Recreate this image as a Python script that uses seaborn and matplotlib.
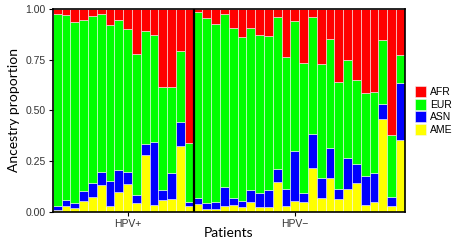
import numpy as np
import pandas as pd
import seaborn as sns
import matplotlib.pyplot as plt

# ancestry proportions per patient (16 HPV+ then 24 HPV-)
ancestry = ['AFR', 'EUR', 'ASN', 'AME']
colors = ['#FF0000', '#00FF00', '#0000FF', '#FFFF00']

afr = [0.025, 0.028, 0.061, 0.051, 0.035, 0.025, 0.076, 0.051,
       0.097, 0.221, 0.107, 0.127, 0.384, 0.384, 0.206, 0.659,
       0.015, 0.045, 0.074, 0.021, 0.094, 0.135, 0.094, 0.127,
       0.132, 0.037, 0.238, 0.057, 0.265, 0.040, 0.271, 0.148,
       0.359, 0.250, 0.348, 0.412, 0.409, 0.152, 0.623, 0.226]
eur = [0.947, 0.914, 0.898, 0.845, 0.822, 0.777, 0.771, 0.741,
       0.705, 0.697, 0.560, 0.529, 0.509, 0.426, 0.352, 0.295,
       0.916, 0.912, 0.877, 0.855, 0.837, 0.814, 0.801, 0.779,
       0.763, 0.753, 0.650, 0.645, 0.645, 0.576, 0.564, 0.539,
       0.530, 0.483, 0.414, 0.413, 0.401, 0.316, 0.305, 0.140]
asn = [0.020, 0.028, 0.021, 0.051, 0.071, 0.068, 0.127, 0.112,
       0.063, 0.041, 0.053, 0.311, 0.049, 0.127, 0.116, 0.018,
       0.031, 0.030, 0.036, 0.094, 0.038, 0.030, 0.057, 0.071,
       0.082, 0.062, 0.083, 0.243, 0.041, 0.170, 0.098, 0.148,
       0.050, 0.156, 0.098, 0.142, 0.143, 0.076, 0.046, 0.280]
ame = [0.008, 0.030, 0.020, 0.053, 0.072, 0.130, 0.026, 0.096,
       0.135, 0.041, 0.280, 0.033, 0.058, 0.063, 0.326, 0.028,
       0.038, 0.013, 0.013, 0.030, 0.031, 0.021, 0.048, 0.023,
       0.023, 0.148, 0.029, 0.055, 0.049, 0.214, 0.067, 0.165,
       0.061, 0.111, 0.140, 0.033, 0.047, 0.456, 0.026, 0.354]

n_pos = 16
group_labels = ['HPV+', 'HPV\u2212']
group_ticks = [8, 27]

n = len(afr)
df = pd.DataFrame({
    'patient': np.tile(np.arange(n), 4),
    'ancestry': np.repeat(ancestry, n),
    'prop': np.concatenate([afr, eur, asn, ame]),
})

plt.rcParams['font.family'] = ['Liberation Sans', 'DejaVu Sans']

fig = plt.figure(figsize=(4.56, 2.4), dpi=100)
ax = fig.add_axes([0.1156, 0.1179, 0.7719, 0.8434])

sns.histplot(data=df, x='patient', weights='prop', hue='ancestry',
             hue_order=ancestry, palette=colors, multiple='stack',
             discrete=True, shrink=1, alpha=1, edgecolor='#f4f4f4',
             linewidth=0.4, ax=ax)

# separator between HPV+ and HPV- patients
ax.axvline(n_pos - 0.5, color='black', lw=1.6)

ax.set_xlim(-0.5, n - 0.5)
ax.set_ylim(0, 1)
ax.set_yticks([0, 0.25, 0.5, 0.75, 1.0])
ax.set_yticklabels(['0.00', '0.25', '0.50', '0.75', '1.00'])
ax.set_xticks(group_ticks)
ax.set_xticklabels(group_labels)
ax.tick_params(labelsize=7.5, colors='#333333', length=3, width=0.8, pad=2)
ax.tick_params(axis='both', color='black')

ax.set_xlabel('Patients', family='Lato', fontsize=10, labelpad=-1)
ax.set_ylabel('Ancestry proportion', family='Lato', fontsize=10, labelpad=4)

for s in ax.spines.values():
    s.set_color('black')
    s.set_linewidth(1.2)

sns.move_legend(ax, 'center left', bbox_to_anchor=(1.003, 0.5), frameon=False,
                title=None, fontsize=7.5, handlelength=1.0, handleheight=1.3,
                handletextpad=0.45, labelspacing=0.12)

fig.savefig('out.png', dpi=100)
